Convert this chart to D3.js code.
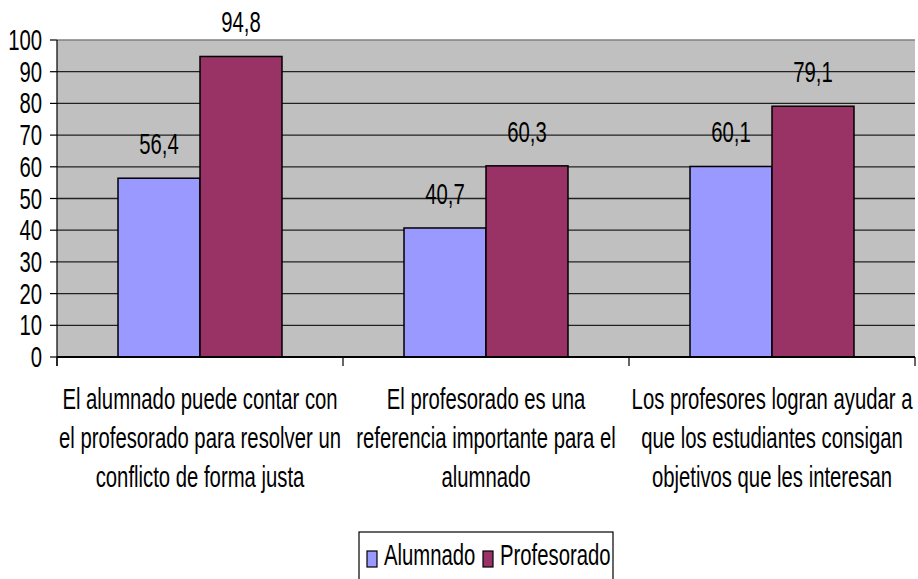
<!DOCTYPE html>
<html>
<head>
<meta charset="utf-8">
<script src="https://cdn.jsdelivr.net/npm/d3@7"></script>
<style>
  body { margin: 0; background: white; }
  svg text { font-family: "Liberation Sans", Arial, sans-serif; fill: black; }
</style>
</head>
<body>
<div id="chart"></div>
<script>
// chart values
var categories = [
  "El alumnado puede contar con el profesorado para resolver un conflicto de forma justa",
  "El profesorado es una referencia importante para el alumnado",
  "Los profesores logran ayudar a que los estudiantes consigan objetivos que les interesan"
];
var categoryLines = [
  ["El alumnado puede contar con", "el profesorado para resolver un", "conflicto de forma justa"],
  ["El profesorado es una", "referencia importante para el", "alumnado"],
  ["Los profesores logran ayudar a", "que los estudiantes consigan", "objetivos que les interesan"]
];
var seriesNames = ["Alumnado", "Profesorado"];
var alumnado = [56.4, 40.7, 60.1];
var profesorado = [94.8, 60.3, 79.1];
var seriesColors = ["#9999FF", "#993366"];
var yTicks = [0, 10, 20, 30, 40, 50, 60, 70, 80, 90, 100];

// layout
var W = 918, H = 579;
var plot = {left: 57, right: 915, top: 40, bottom: 357};
var fontSize = 29, squeeze = 0.70;   // text in the picture is narrow and tall

var svg = d3.select("#chart").append("svg")
    .attr("width", W).attr("height", H);

// narrow text helper: scale horizontally round its own anchor
function addText(parent, x, y, str, anchor) {
    return parent.append("text")
        .attr("transform", "translate(" + x + "," + y + ") scale(" + squeeze + ",1)")
        .attr("text-anchor", anchor || "middle")
        .style("font-size", fontSize + "px")
        .text(str);
}

var x0 = d3.scaleBand().domain(d3.range(categories.length))
    .range([plot.left, plot.right]).padding(0);
var x1 = d3.scaleBand().domain(seriesNames)
    .range([0, x0.bandwidth()]).paddingInner(0).paddingOuter(0.744);
var y = d3.scaleLinear().domain([0, 100]).range([plot.bottom, plot.top]);

// plot background
svg.append("rect")
    .attr("x", plot.left).attr("y", plot.top)
    .attr("width", plot.right - plot.left).attr("height", plot.bottom - plot.top)
    .attr("fill", "#C0C0C0");

// gridlines
svg.append("g").selectAll("line")
    .data(yTicks.filter(function(d) { return d > 0 && d < 100; }))
    .join("line")
    .attr("x1", plot.left).attr("x2", plot.right)
    .attr("y1", function(d) { return y(d); }).attr("y2", function(d) { return y(d); })
    .attr("stroke", "#222").attr("stroke-width", 1.3);
svg.append("line")
    .attr("x1", plot.left).attr("x2", plot.right)
    .attr("y1", y(100)).attr("y2", y(100))
    .attr("stroke", "#808080").attr("stroke-width", 1.5);

// bars
var rows = categories.map(function(c, i) {
    return [{s: seriesNames[0], v: alumnado[i], i: i}, {s: seriesNames[1], v: profesorado[i], i: i}];
});
var groups = svg.append("g").selectAll("g")
    .data(rows).join("g")
    .attr("transform", function(d, i) { return "translate(" + x0(i) + ",0)"; });

groups.selectAll("rect")
    .data(function(d) { return d; }).join("rect")
    .attr("x", function(d) { return x1(d.s); })
    .attr("y", function(d) { return y(d.v); })
    .attr("width", x1.bandwidth())
    .attr("height", function(d) { return y(0) - y(d.v); })
    .attr("fill", function(d, j) { return seriesColors[j]; })
    .attr("stroke", "black").attr("stroke-width", 1.5);

// value labels
groups.each(function(d) {
    var g = d3.select(this);
    d.forEach(function(p) {
        addText(g, x1(p.s) + x1.bandwidth() / 2, y(p.v) - 24, String(p.v).replace(".", ","));
    });
});

// y axis
var yAxis = svg.append("g");
yAxis.append("line")
    .attr("x1", plot.left).attr("x2", plot.left)
    .attr("y1", plot.top).attr("y2", plot.bottom + 9)
    .attr("stroke", "black").attr("stroke-width", 1.2);
yAxis.selectAll("line.tick")
    .data(yTicks).join("line").attr("class", "tick")
    .attr("x1", plot.left - 7).attr("x2", plot.left)
    .attr("y1", function(d) { return y(d); }).attr("y2", function(d) { return y(d); })
    .attr("stroke", "black").attr("stroke-width", 1.2);
yTicks.forEach(function(t) {
    addText(yAxis, 42, y(t) + 10, String(t), "end");
});

// x axis
var xAxis = svg.append("g");
xAxis.append("line")
    .attr("x1", plot.left).attr("x2", plot.right)
    .attr("y1", plot.bottom).attr("y2", plot.bottom)
    .attr("stroke", "black").attr("stroke-width", 2);
xAxis.selectAll("line.tick")
    .data(d3.range(categories.length + 1)).join("line").attr("class", "tick")
    .attr("x1", function(i) { return plot.left + i * x0.step(); })
    .attr("x2", function(i) { return plot.left + i * x0.step(); })
    .attr("y1", plot.bottom).attr("y2", plot.bottom + 9)
    .attr("stroke", "black").attr("stroke-width", 1.2);
categoryLines.forEach(function(lines, i) {
    var cx = x0(i) + x0.bandwidth() / 2;
    lines.forEach(function(line, k) {
        addText(xAxis, cx, 409 + k * 39, line);
    });
});

// legend
var legend = svg.append("g");
legend.append("rect")
    .attr("x", 359).attr("y", 532).attr("width", 254).attr("height", 70)
    .attr("fill", "white").attr("stroke", "black").attr("stroke-width", 1.2);
var legendX = [367, 483];
seriesNames.forEach(function(name, j) {
    legend.append("rect")
        .attr("x", legendX[j]).attr("y", 551).attr("width", 10).attr("height", 16)
        .attr("fill", seriesColors[j]).attr("stroke", "black").attr("stroke-width", 1.2);
    addText(legend, legendX[j] + 17, 565, name, "start");
});
</script>
</body>
</html>
